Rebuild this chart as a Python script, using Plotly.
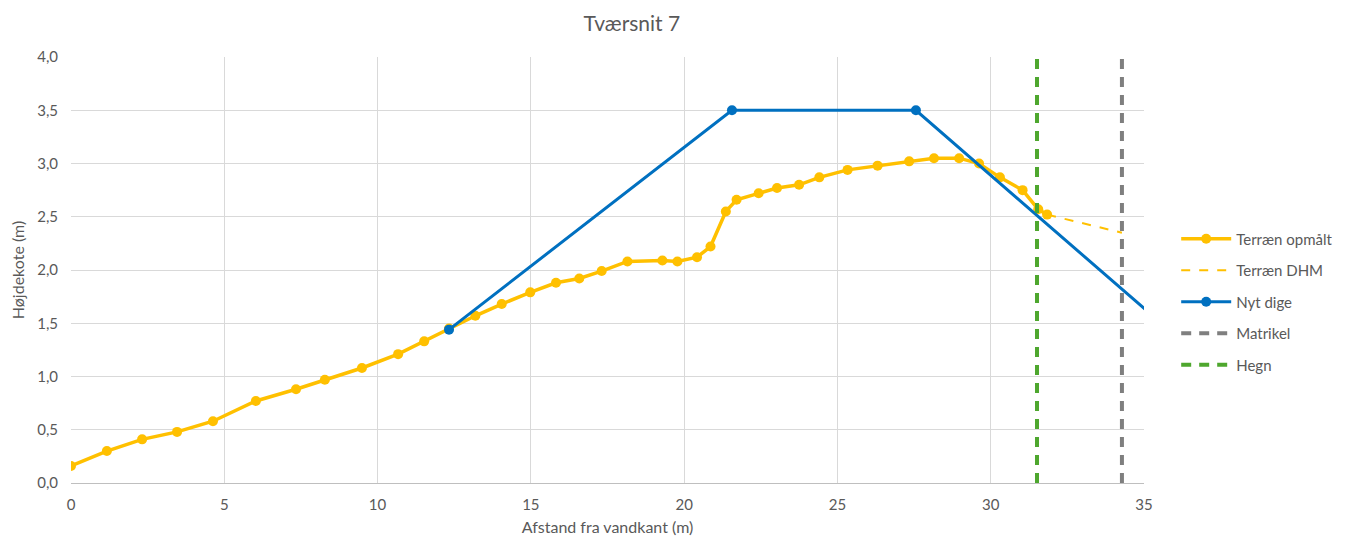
import plotly.graph_objects as go

# Terræn opmålt (measured terrain)
terr_x = [0, 1.17, 2.32, 3.46, 4.63, 6.03, 7.34, 8.28, 9.49, 10.67, 11.52, 12.33,
          13.19, 14.05, 14.98, 15.82, 16.58, 17.31, 18.15, 19.29, 19.78, 20.42, 20.86,
          21.36, 21.71, 22.43, 23.03, 23.75, 24.41, 25.33, 26.31, 27.34, 28.15, 28.97,
          29.62, 30.30, 31.04, 31.55, 31.84]
terr_y = [0.16, 0.30, 0.41, 0.48, 0.58, 0.77, 0.88, 0.97, 1.08, 1.21, 1.33, 1.45,
          1.57, 1.68, 1.79, 1.88, 1.92, 1.99, 2.08, 2.09, 2.08, 2.12, 2.22,
          2.55, 2.66, 2.72, 2.77, 2.80, 2.87, 2.94, 2.98, 3.02, 3.05, 3.05,
          3.00, 2.87, 2.75, 2.57, 2.52]

# Terræn DHM
dhm_x = [31.84, 34.28]
dhm_y = [2.52, 2.35]

# Nyt dige
dige_x = [12.33, 21.56, 27.56, 36.0]
dige_y = [1.44, 3.50, 3.50, 1.39]

# Matrikel / Hegn
matrikel_x = [34.28, 34.28]
hegn_x = [31.51, 31.51]
vert_y = [0, 4.0]

YELLOW = '#FFC000'
BLUE = '#0070C0'
GRAY = '#7F7F7F'
GREEN = '#4EA72E'
TXT = '#595959'

fig = go.Figure()
fig.add_trace(go.Scatter(x=terr_x, y=terr_y, name='Terræn opmålt', mode='lines+markers', legendgroup='a',
                         line=dict(color=YELLOW, width=3.5), marker=dict(size=10, color=YELLOW)))
fig.add_trace(go.Scatter(x=dhm_x, y=dhm_y, name='Terræn DHM', mode='lines', legendgroup='b',
                         line=dict(color=YELLOW, width=2, dash='dash')))
fig.add_trace(go.Scatter(x=dige_x, y=dige_y, name='Nyt dige', mode='lines+markers', legendgroup='c',
                         line=dict(color=BLUE, width=3), marker=dict(size=10, color=BLUE)))
fig.add_trace(go.Scatter(x=matrikel_x, y=vert_y, name='Matrikel', mode='lines', legendgroup='d',
                         line=dict(color=GRAY, width=4, dash='10px,8px')))
fig.add_trace(go.Scatter(x=hegn_x, y=vert_y, name='Hegn', mode='lines', legendgroup='e',
                         line=dict(color=GREEN, width=4, dash='10px,8px')))

# page has an 8px body margin, so figure is 16px smaller than the window
fig.update_layout(
    width=1336, height=528,
    margin=dict(l=63, r=200, t=49, b=53, autoexpand=False),
    paper_bgcolor='white', plot_bgcolor='white',
    separators=',.',
    font=dict(family='Lato, Noto Sans, sans-serif', color=TXT, size=14),
    title=dict(text='Tværsnit 7', x=0.467, xanchor='center', y=0.97, yanchor='middle',
               font=dict(size=21, color=TXT)),
    legend=dict(x=1.03, xanchor='left', y=0.425, yanchor='middle',
                font=dict(size=15, color=TXT), tracegroupgap=9, itemwidth=50,
                bgcolor='rgba(0,0,0,0)'),
    xaxis=dict(range=[0, 35], dtick=5, tick0=0, showgrid=True, gridcolor='#D9D9D9',
               zeroline=False, showline=True, linecolor='#BFBFBF', linewidth=1,
               ticks='', automargin=False, ticklabelstandoff=8,
               title=dict(text='Afstand fra vandkant (m)', font=dict(size=16, color=TXT), standoff=18),
               tickfont=dict(size=15, color=TXT)),
    yaxis=dict(range=[0, 4.0], dtick=0.5, tickformat='.1f', showgrid=True, gridcolor='#D9D9D9',
               zeroline=False, showline=False, ticks='', automargin=False, ticklabelstandoff=12,
               title=dict(text='Højdekote (m)', font=dict(size=16, color=TXT), standoff=10),
               tickfont=dict(size=15, color=TXT)),
)

fig.write_html("out.html")
